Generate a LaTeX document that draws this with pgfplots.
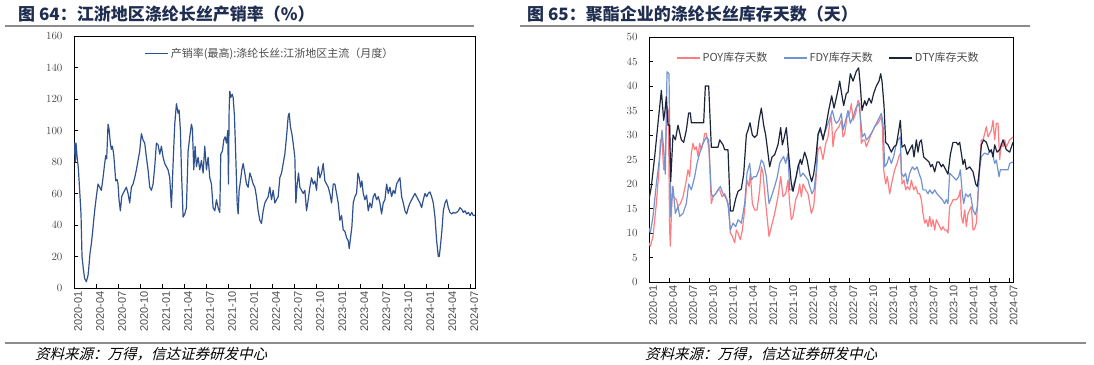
\documentclass[border=0pt]{standalone}
\usepackage{pgfplots}
\pgfplotsset{compat=1.18}
\usepackage{fontspec}
\setmainfont{Liberation Sans}
\newfontfamily\cjk{Noto Sans CJK SC}
\newfontfamily\cjkslant[FakeSlant=0.25]{Noto Sans CJK SC}
\definecolor{titlecol}{RGB}{31,45,80}
\definecolor{lblue}{RGB}{47,82,143}
\definecolor{poycol}{RGB}{255,124,128}
\definecolor{fdycol}{RGB}{114,147,207}
\definecolor{dtycol}{RGB}{28,36,58}
\definecolor{tickgray}{RGB}{75,75,75}
\definecolor{rulegray}{RGB}{140,140,140}

\pgfplotstableread{
x y
133 85
135 92
137 80
139 92
142 84
146 76
150 62
154 47
157 20
161 12
165 6
170 4
175 8
177 12
181 22
185 28
189 36
192 43
196 51
200 58
205 66
210 64
215 62
220 70
225 79
228 84
231 82
235 104
238 101
242 92
245 88
248 90
252 85
255 77
258 68
262 69
265 66
268 56
272 49
276 58
280 60
285 62
290 64
295 60
300 54
305 64
310 66
315 70
320 75
325 81
330 87
335 98
340 94
345 92
350 83
355 75
360 64
365 62
370 66
375 77
380 92
385 91
390 85
395 90
400 83
405 79
410 77
415 75
420 70
425 51
430 79
435 104
440 117
445 111
448 113
452 100
455 75
460 45
465 47
470 51
475 87
480 96
485 104
488 101
492 75
496 90
500 77
505 83
510 75
515 81
520 73
525 90
530 75
535 83
540 70
545 66
550 51
555 49
560 56
565 51
570 48
573 85
578 87
582 94
586 96
590 92
594 100
596 66
598 113
600 125
603 121
607 123
610 121
614 109
618 83
622 54
625 47
628 62
632 68
636 75
640 79
645 73
650 66
655 64
660 73
665 70
670 66
675 64
680 58
685 49
690 43
695 41
700 49
705 54
710 56
715 58
720 64
725 56
730 62
735 54
740 56
745 58
750 70
755 73
760 79
765 85
770 96
775 109
778 111
782 102
786 98
790 92
795 83
798 54
802 66
806 73
810 64
815 62
820 60
825 62
830 49
835 56
840 64
845 70
850 66
855 68
860 62
865 77
870 70
875 73
880 79
885 68
890 66
895 64
900 60
905 54
910 66
915 66
920 60
925 54
930 43
935 46
940 37
945 36
950 32
955 30
958 25
962 32
966 39
970 54
975 58
980 60
984 73
988 70
992 64
996 68
1000 60
1005 56
1010 59
1015 49
1020 54
1025 51
1030 58
1035 60
1040 56
1045 58
1050 54
1055 47
1060 54
1065 56
1070 66
1075 60
1080 64
1085 58
1090 62
1095 60
1100 66
1105 68
1110 70
1115 58
1120 54
1125 49
1130 47
1135 51
1140 54
1145 56
1150 58
1155 60
1160 58
1165 56
1170 54
1175 51
1180 56
1185 60
1190 58
1195 60
1200 61
1205 58
1210 54
1215 45
1220 30
1225 20
1228 20
1232 28
1236 37
1240 49
1245 54
1250 56
1255 51
1260 48
1265 47
1270 48
1275 47.5
1280 48
1285 49
1290 51
1295 50
1300 48
1305 49
1310 47
1315 48
1320 46
1325 48
1330 46
1335 46
}\ratedata

\pgfplotstableread{
x y
118 8
122 7.3
130 9.3
140 16
148 22.9
152 29
157 29
162 22.9
165 22.9
172 35.7
176 35
180 10.6
182 7.3
188 19.5
192 17.4
200 16.8
205 15.4
212 16
220 17.4
228 20
235 22.9
240 21.5
245 26.3
250 28.3
255 27
260 27.6
265 25.6
270 28.3
275 27
280 28.3
285 30.3
290 30.3
298 27
305 16
310 17.4
318 18
325 18.8
330 18.8
337 17.4
345 18
352 16.8
358 14.7
362 10
368 9.3
375 8
380 10.6
385 10
392 8.6
398 10.6
405 14.7
412 20.8
418 19.5
422 22.2
428 16
435 14.7
442 14.7
450 18.8
455 23.5
460 22.2
466 17.4
472 13.4
478 9.3
485 11.3
495 14
505 17.4
513 21.5
520 17.4
528 18
535 20.8
540 16
545 12.7
550 13.4
558 16.8
565 18
570 20
575 17.4
580 20
588 18.8
595 18
600 16
605 14
612 15.4
618 20
625 27
632 27.6
640 25
648 28.3
655 29.6
660 32.4
665 33.7
670 27.6
675 30.3
680 31
688 31.7
695 33
700 29.6
705 30.3
712 33.7
720 34.4
725 36.4
730 33
738 34.4
745 37.1
750 36.4
755 28.3
760 29
765 29
770 27.6
778 29
785 30.3
795 31.7
805 32.4
815 33.7
818 31.7
822 22.9
828 20
833 21.5
840 18
848 20.8
855 22.9
862 24.2
868 25.6
873 26.3
877 20
883 20.8
888 18.8
893 19.5
900 18.8
905 20.8
912 18.8
918 19.5
925 18
930 18
935 16.8
940 14
945 12
950 12.7
955 11.3
960 13.4
965 11.3
970 12.7
975 10.6
980 12.7
985 12
990 11.3
995 10.6
1000 11.3
1005 10.6
1010 10.6
1015 10
1020 15.4
1025 16
1030 16.8
1040 16.8
1047 17.4
1052 18.8
1055 13.4
1060 12
1065 14.7
1070 11.3
1075 14
1080 14.7
1085 15.4
1090 10.6
1095 10.9
1100 12
1105 17.4
1110 23.5
1115 29
1120 29
1125 30.3
1130 31.7
1135 29.6
1140 30.3
1145 31
1150 33
1155 29
1160 32.4
1165 32.4
1170 25
1175 28.3
1180 27.6
1185 29
1190 27.6
1195 28.3
1200 29
1210 29.6
}\poydata

\pgfplotstableread{
x y
118 11
122 10
130 13.4
140 20
150 25.5
157 31
162 27
167 22
172 42.9
178 42.5
183 13.4
190 19.5
197 14
205 15.4
210 13.4
220 14
230 16
237 20
245 18.8
255 21.5
262 24.2
270 26.3
280 28.3
290 29.6
297 29
305 18
310 17.4
318 18
325 18.8
332 19.5
340 18
347 17.4
355 16
362 10.6
370 12
378 11.3
385 12.7
395 12
405 16
412 22.2
420 24.2
425 20.8
432 21.5
440 21.5
448 22.9
455 24.9
462 24.2
470 21.5
478 16
485 17.4
495 19.5
503 21.5
510 24.2
515 24.9
522 25.6
528 24.2
535 26.3
540 18.8
545 18.8
552 20
560 21.5
567 24.2
572 21.5
580 22.2
588 21.5
595 20.8
600 19.5
607 18
613 18.8
620 22.9
625 30.3
630 31
640 29.6
648 31
655 32.4
662 33.7
668 35
675 33
680 32.4
688 33
695 34.4
700 31
708 33
715 35
722 32.4
730 33.7
740 35.7
748 36.4
752 33.7
758 29.6
765 30.3
770 29
778 29.6
785 30.3
795 31.7
805 33
815 34.4
820 32.4
825 23.5
832 24.2
838 25.6
845 24.2
852 25.6
858 27.6
865 29
872 29.6
875 22.2
882 21.5
888 22.2
893 20
900 22.2
908 23.5
915 22.9
922 23.5
928 22.2
935 20.8
940 18.8
948 18.8
955 18
960 18.8
968 18
975 18.8
982 18
990 17.4
998 16.8
1005 16
1010 16.8
1015 16
1020 22.2
1030 21.5
1040 20.8
1047 21.5
1052 22.9
1058 18
1062 16
1068 18
1075 17.4
1082 18
1090 14.7
1097 13.7
1103 15.4
1108 22.2
1115 25.6
1125 26.3
1135 26
1140 26.9
1148 26.3
1155 24.2
1160 24.9
1168 21.5
1172 22.9
1180 22.9
1188 22.9
1195 22.9
1200 24.2
1210 24.5
}\fdydata

\pgfplotstableread{
x y
118 16.8
125 19.5
135 25.6
145 32.4
155 39.1
162 33
166 35
170 37.8
175 32
180 32
183 20.5
190 30
197 29
205 32
215 29
222 28.5
230 31
237 34.5
242 34.5
245 32.5
282 32.5
287 40
297 40
305 27.5
325 27.5
330 29
340 28
345 27
355 27
362 14.5
370 14.5
378 17
385 18.5
395 19
402 22
410 30
415 31
421 32.5
428 30
435 29.5
442 30
448 33
455 35.5
462 32
468 30
480 23.5
487 25.5
495 26
505 28
513 31.5
518 28
522 29
530 31.5
537 26
545 20
550 18.5
558 21
565 23.5
572 25
576 24
585 26.5
592 25
600 22
606 20.5
612 22
618 25
625 30
632 31.5
640 29
648 31.5
657 35
666 38
673 35.5
678 37
686 39.5
690 41
697 38
702 36
710 38.5
715 38.7
722 42.5
730 41
740 43
747 43.7
752 40
757 35
765 37
770 36
778 37.5
785 36.5
792 38.5
800 40
808 41
813 42.5
817 41
823 36
828 28.5
835 28
845 26.5
852 27.5
860 28
865 30
872 33
877 27.5
885 28
893 26
900 27
908 28
913 25.5
920 29
925 26.5
930 28.5
935 29
942 25.5
950 25
958 24.5
963 23.5
968 24
975 22.5
982 24.5
988 24.5
995 23.5
1000 24
1015 22
1022 26
1030 28.5
1040 28.5
1045 28
1050 28.5
1060 24
1065 25
1070 23
1080 23.5
1090 22.5
1098 20
1103 19.5
1108 22
1115 28
1122 29
1130 28.5
1140 26.5
1145 27
1150 25.5
1155 28
1162 26.5
1170 27
1180 29
1190 27
1200 26.5
1210 28.5
}\dtydata

\pgfplotsset{
  common/.style={
    anchor=south west, scale only axis,
    tick align=inside, major tick length=4pt,
    xtick pos=lower, ytick pos=left,
    axis line style={black, line width=0.9pt},
    tick style={black, line width=0.8pt},
    ticklabel style={font=\fontsize{11}{13}\selectfont, text=tickgray},
    xticklabel style={rotate=90, anchor=east, yshift=-4pt},
    yticklabel style={xshift=-8pt},
    xticklabels={2020-01,2020-04,2020-07,2020-10,2021-01,2021-04,2021-07,2021-10,2022-01,2022-04,2022-07,2022-10,2023-01,2023-04,2023-07,2023-10,2024-01,2024-04,2024-07},
    legend style={draw=none, fill=none, font=\cjk\fontsize{11}{13}\selectfont, text=tickgray},
    legend image code/.code={\draw[#1, line width=1.2pt] (0pt,0pt) -- (23pt,0pt);},
  }
}

\begin{document}
\begin{tikzpicture}
\path[use as bounding box] (0pt,0pt) rectangle (1094pt,364pt);
\node[anchor=west, inner sep=0, text=titlecol, font=\cjk\bfseries\fontsize{17}{19}\selectfont] at (18pt,350pt) {图 64：江浙地区涤纶长丝产销率（\%）};
\node[anchor=west, inner sep=0, text=titlecol, font=\cjk\bfseries\fontsize{17}{19}\selectfont] at (527pt,350pt) {图 65：聚酯企业的涤纶长丝库存天数（天）};
\draw[rulegray, line width=1.3pt] (5pt,338pt) -- (474pt,338pt);
\draw[rulegray, line width=1.3pt] (520pt,338pt) -- (1030pt,338pt);
\draw[rulegray, line width=1.3pt] (5pt,21pt) -- (1086pt,21pt);
\node[anchor=west, inner sep=0, font=\cjkslant\fontsize{14.5}{16}\selectfont] at (35pt,10pt) {资料来源：万得，信达证券研发中心};
\node[anchor=west, inner sep=0, font=\cjkslant\fontsize{14.5}{16}\selectfont] at (645pt,10pt) {资料来源：万得，信达证券研发中心};

\begin{axis}[common, at={(74pt,76pt)}, width=401pt, height=252pt,
  xmin=133, xmax=1335, ymin=0, ymax=160, ytick={0,20,...,160},
  xtick={133,199,...,1321},
  legend style={at={(0.489,0.929)}, anchor=center},
]
\addplot[lblue, line width=1.2pt, line join=round] table[x=x,y=y] {\ratedata};
\addlegendentry{产销率(最高):涤纶长丝:江浙地区主流（月度）}
\end{axis}

\begin{axis}[common, at={(649pt,82pt)}, width=364pt, height=245pt,
  xmin=118, xmax=1210, ymin=0, ymax=50, ytick={0,5,...,50},
  xtick={118,178.1,238.2,298.3,358.4,418.6,478.7,538.8,598.9,659,719.1,779.2,839.3,899.4,959.6,1019.7,1079.8,1139.9,1200},
  legend columns=3,
  legend style={at={(0.493,0.914)}, anchor=center, /tikz/every even column/.append style={column sep=14pt}},
]
\addplot[poycol, line width=1.2pt, line join=round] table[x=x,y=y] {\poydata};
\addlegendentry{POY库存天数}
\addplot[fdycol, line width=1.2pt, line join=round] table[x=x,y=y] {\fdydata};
\addlegendentry{FDY库存天数}
\addplot[dtycol, line width=1.2pt, line join=round] table[x=x,y=y] {\dtydata};
\addlegendentry{DTY库存天数}
\end{axis}
\end{tikzpicture}
\end{document}
